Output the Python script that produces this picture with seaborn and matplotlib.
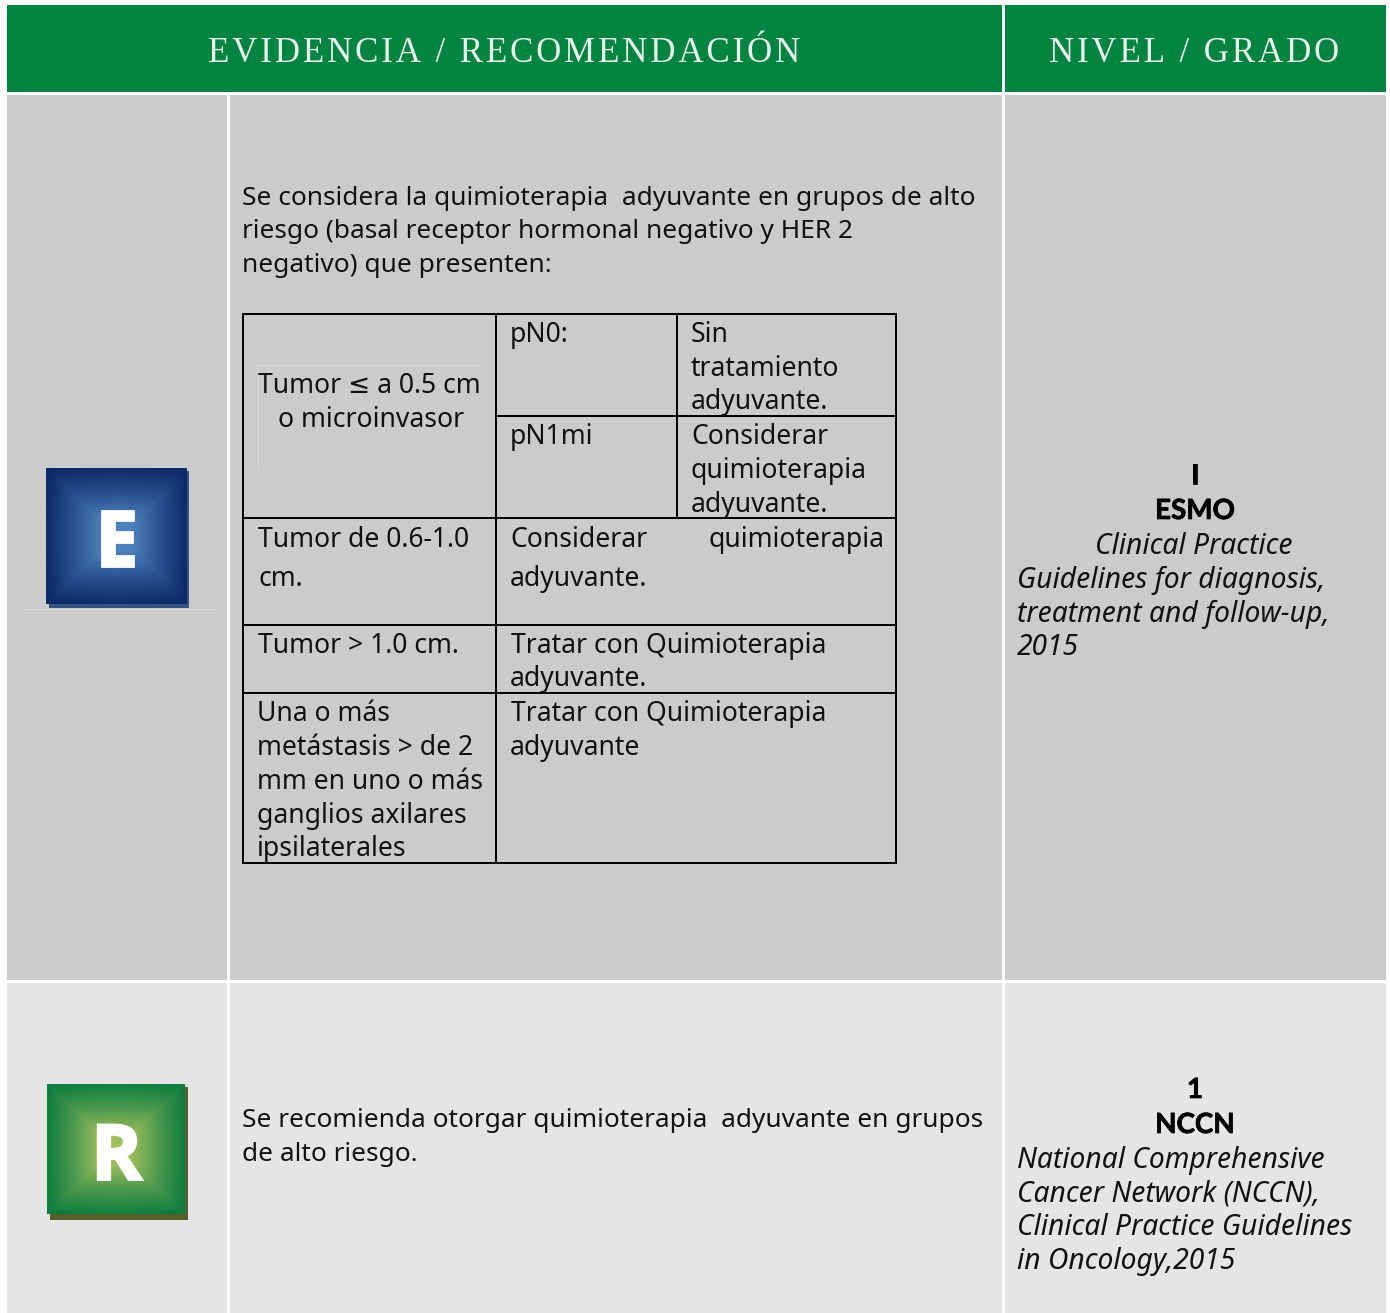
import numpy as np
import matplotlib
matplotlib.use("Agg")
import matplotlib.pyplot as plt
import matplotlib.patheffects as pe
from matplotlib.patches import Rectangle
import seaborn as sns

sns.set_theme(style="white")
BODY = ["Noto Sans", "DejaVu Sans"]
SERIF = ["Liberation Serif", "DejaVu Serif"]
BOLD = ["Lato", "DejaVu Sans"]
ICON = ["Open Sans", "DejaVu Sans"]

HAIR = "\u200a"
headers = ["EVIDENCIA / RECOMENDACIÓN", "NIVEL / GRADO"]
evidence_lines = ["Se considera la quimioterapia  adyuvante en grupos de alto",
                  "riesgo (basal receptor hormonal negativo y HER 2",
                  "negativo) que presenten:"]
evidence_base = [205, 238, 272]
cells = ["Tumor ≤ a 0.5 cm", "o microinvasor", "pN0:", "Sin", "tratamiento", "adyuvante.",
         "pN1mi", "Considerar", "quimioterapia", "adyuvante.",
         "Tumor de 0.6-1.0", "cm.", "Considerar", "quimioterapia", "adyuvante.",
         "Tumor > 1.0 cm.", "Tratar con Quimioterapia", "adyuvante.",
         "Una o más", "metástasis > de 2", "mm en uno o más", "ganglios axilares", "ipsilaterales",
         "Tratar con Quimioterapia", "adyuvante"]
cell_x = [258, 278, 510, 691, 691, 691,
          510, 691, 691, 691,
          258, 258, 510, 708, 510,
          258, 511, 510,
          257, 257, 257, 257, 257,
          511, 510]
cell_y = [393, 427, 342, 342, 376, 409,
          444, 444, 478, 512,
          547, 586, 547, 547, 586,
          653, 653, 686,
          721, 755, 789, 823, 856,
          721, 755]
esmo_bold = ["I", "ESMO"]
esmo_bold_y = [484, 519]
esmo_ital = ["Clinical Practice", "Guidelines for diagnosis,", "treatment and follow-up,", "2015"]
esmo_ital_x = [1095, 1017, 1017, 1017]
esmo_ital_y = [554, 588, 622, 655]
rec_lines = ["Se recomienda otorgar quimioterapia  adyuvante en grupos", "de alto riesgo."]
rec_y = [1127, 1161]
nccn_bold = ["1", "NCCN"]
nccn_bold_y = [1098, 1133]
nccn_ital = ["National Comprehensive", "Cancer Network (NCCN),", "Clinical Practice Guidelines", "in Oncology,2015"]
nccn_ital_y = [1168, 1201, 1235, 1269]

GREEN = "#00843F"
DARK_ROW = "#CBCBCB"
LIGHT_ROW = "#E5E5E5"

fig = plt.figure(figsize=(13.9, 13.13), dpi=100, facecolor="white")
ax = fig.add_axes([0, 0, 1, 1])
ax.set_axis_off()


def box(x0, y0, x1, y1, color, z=1):
    ax.add_patch(Rectangle((x0, y0), x1 - x0, y1 - y0, fc=color, ec="none", zorder=z))


def line(x0, y0, x1, y1, color="black", w=2.0, z=3):
    ax.plot([x0, x1], [y0, y1], color=color, lw=w * 0.72, solid_capstyle="projecting", zorder=z)


def label(x, y, s, size=18.9, ha="left", **kw):
    ax.text(x, y, s, fontsize=size, ha=ha, va="baseline", color=kw.pop("color", "#111111"),
            family=kw.pop("family", BODY), zorder=6, **kw)


def spaced(s, n=1):
    return (HAIR * n).join(s)


def icon(x0, y0, x1, y1, sx, sy, shadow, edge, mid, centre, letter, lx, ly, size):
    box(x0 + 3, y0 + 3, sx, sy, shadow, z=2)
    cmap = sns.blend_palette([centre, mid, edge], as_cmap=True)
    u = np.linspace(-1, 1, 200)
    xx, yy = np.meshgrid(u, u)
    square = np.maximum(np.abs(xx), np.abs(yy))
    round_ = np.hypot(xx, yy) / np.sqrt(2)
    ax.imshow(0.8 * square + 0.2 * round_, cmap=cmap, extent=(x0, x1, y1, y0),
              aspect="auto", zorder=3, vmin=0.2, vmax=0.97, interpolation="bilinear")
    ax.text(lx, ly, letter, fontsize=size, color="white", ha="center", va="baseline",
            family=ICON, fontweight="bold", zorder=5,
            path_effects=[pe.withStroke(linewidth=2.0, foreground="white", joinstyle="miter")])


# header band
box(7, 5, 1002, 92, GREEN)
box(1005, 5, 1386, 92, GREEN)
ax.text(504, 61.5, spaced(headers[0]), fontsize=25.1, color="#EAF4EE", ha="center", va="baseline", family=SERIF, zorder=6)
ax.text(1194, 61.5, spaced(headers[1]), fontsize=25.1, color="#EAF4EE", ha="center", va="baseline", family=SERIF, zorder=6)

# row backgrounds
for (y0, y1, c) in [(95, 980, DARK_ROW), (983, 1313, LIGHT_ROW)]:
    box(7, y0, 227, y1, c)
    box(230, y0, 1002, y1, c)
    box(1005, y0, 1386, y1, c)

# faint rules left from the source
line(258, 365, 481, 365, color="#DADADA", w=1, z=2)
line(258, 365, 258, 467, color="#DADADA", w=1, z=2)
line(20, 609, 215, 609, color="#D6D6D6", w=1, z=2)

# icons
icon(46, 468, 187, 604, 189, 608, "#2F5580", "#0C2A66", "#2A5292", "#4E82BC", "E", 116.5, 565.5, 55)
icon(47, 1084, 185, 1214, 188, 1220, "#55602B", "#0E7D3F", "#4E9A4E", "#A0BE5C", "R", 116.5, 1179.5, 55)

# evidence text
for s, y in zip(evidence_lines, evidence_base):
    label(242, y, s)
for s, x, y in zip(cells, cell_x, cell_y):
    label(x, y, s, size=19.1)

# inner table rules
for y in (314, 518, 625, 693, 863):
    line(243, y, 896, y)
line(496, 416, 896, 416)
for x in (243, 896):
    line(x, 314, x, 863)
line(496, 314, 496, 863)
line(677, 314, 677, 518)

# level column, row 1
for s, y in zip(esmo_bold, esmo_bold_y):
    label(1195, y, s, ha="center", size=20, family=BOLD, fontweight="bold", color="black",
          path_effects=[pe.withStroke(linewidth=0.5, foreground="black")])
for s, x, y in zip(esmo_ital, esmo_ital_x, esmo_ital_y):
    label(x, y, s, size=20.3, fontstyle="italic")

# row 2
for s, y in zip(rec_lines, rec_y):
    label(242, y, s)
for s, y in zip(nccn_bold, nccn_bold_y):
    label(1195, y, s, ha="center", size=20, family=BOLD, fontweight="bold", color="black",
          path_effects=[pe.withStroke(linewidth=0.5, foreground="black")])
for s, y in zip(nccn_ital, nccn_ital_y):
    label(1017, y, s, size=20.3, fontstyle="italic")

ax.set_xlim(0, 1390)
ax.set_ylim(1313, 0)
fig.savefig("out.png", dpi=100, facecolor="white")
